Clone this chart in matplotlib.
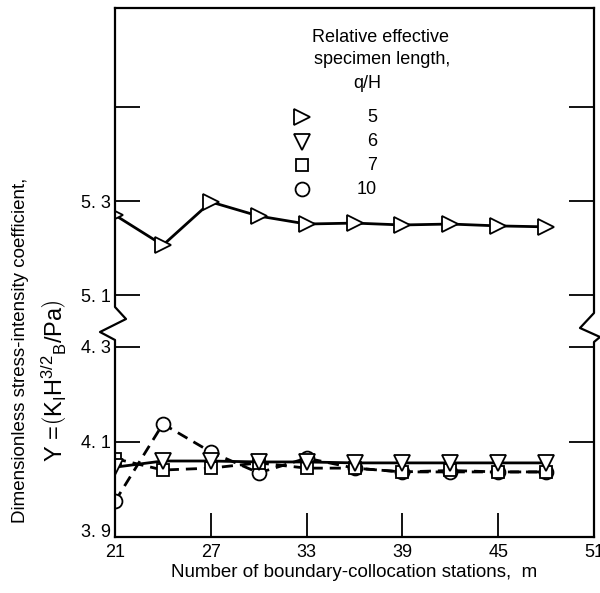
import matplotlib
matplotlib.use("Agg")
import matplotlib.pyplot as plt
from matplotlib.lines import Line2D

plt.rcParams["font.family"] = ["Liberation Sans", "DejaVu Sans"]
plt.rcParams["mathtext.fontset"] = "custom"
plt.rcParams["mathtext.rm"] = "Liberation Sans"
plt.rcParams["mathtext.it"] = "Liberation Sans"

# boundary-collocation stations, m
stations = [21, 24, 27, 30, 33, 36, 39, 42, 45, 48]
# Y for each relative effective specimen length q/H
y_q5 = [5.270, 5.206, 5.298, 5.268, 5.251, 5.253, 5.249, 5.251, 5.247, 5.245]
y_q6 = [4.047, 4.060, 4.060, 4.058, 4.058, 4.056, 4.056, 4.056, 4.056, 4.056]
y_q7 = [4.065, 4.041, 4.045, 4.056, 4.045, 4.045, 4.037, 4.040, 4.037, 4.037]
y_q10 = [3.975, 4.138, 4.079, 4.035, 4.066, 4.045, 4.037, 4.037, 4.037, 4.037]

legend_labels = ["5", "6", "7", "10"]
x_ticks = [21, 27, 33, 39, 45, 51]
low_ticks = [3.9, 4.1, 4.3]
low_tick_labels = ["3. 9", "4. 1", "4. 3"]
up_ticks = [5.1, 5.3, 5.5]
up_tick_labels = ["5. 1", "5. 3", ""]

W, H = 600, 593
fig = plt.figure(figsize=(W / 100, H / 100), dpi=100)


def px(x, y):
    return x / W, 1 - y / H


L, R, T, B, BRK = 115, 594, 8, 537, 320
ax_lo = fig.add_axes([L / W, 1 - B / H, (R - L) / W, (B - BRK) / H])
ax_up = fig.add_axes([L / W, 1 - BRK / H, (R - L) / W, (BRK - T) / H])

for ax in (ax_lo, ax_up):
    ax.set_xlim(21, 51)
    ax.spines["left"].set_visible(False)
    ax.spines["right"].set_visible(False)
    for s in ax.spines.values():
        s.set_linewidth(1.6)
    ax.patch.set_alpha(0)
    ax.tick_params(axis="y", direction="in", length=18, width=1.3,
                   left=True, right=True, labelsize=13, pad=3)

ax_lo.set_ylim(3.9, 3.9 + (B - BRK) / 475)
ax_up.set_ylim(5.1 - (BRK - 295) / 470, 5.1 - (BRK - 295) / 470 + (BRK - T) / 470)
ax_lo.spines["top"].set_visible(False)
ax_up.spines["bottom"].set_visible(False)

ax_lo.set_yticks(low_ticks)
ax_lo.set_yticklabels(low_tick_labels)
ax_lo.get_yticklabels()[0].set_va("baseline")
ax_up.set_yticks(up_ticks)
ax_up.set_yticklabels(up_tick_labels)

ax_lo.set_xticks(x_ticks)
ax_lo.tick_params(axis="x", direction="in", length=17, width=1.3,
                  labelsize=13, pad=5)
ax_up.set_xticks([])

mk = dict(markerfacecolor="white", markeredgecolor="black",
          markeredgewidth=1.3, color="black")
ax_up.plot(stations, y_q5, "-", marker=">", markersize=11, lw=2, **mk)
ax_lo.plot(stations, y_q10, linestyle=(0, (4, 2.5)), marker="o",
           markersize=10, lw=2, **mk)
ax_lo.plot(stations, y_q7, linestyle=(0, (4, 2.5)), marker="s",
           markersize=9, lw=2, **mk)
ax_lo.plot(stations, y_q6, "-", marker="v", markersize=11, lw=2, **mk)

ax_lo.set_xlabel("Number of boundary-collocation stations,  m",
                 fontsize=13.5, labelpad=2)

# left and right spines with break marks
left = [(L, T), (L, 307), (126, 319), (100, 332), (L, 340), (L, B)]
right = [(R, T), (R, 313), (580, 328), (600, 337), (R, 342), (R, B)]
for pts in (left, right):
    xs, ys = zip(*[px(*p) for p in pts])
    fig.add_artist(Line2D(xs, ys, color="black", lw=1.6,
                          transform=fig.transFigure))

# y label
fig.text(*px(21, 350), "Dimensionless stress-intensity coefficient,",
         rotation=90, ha="center", va="center", fontsize=13.5)
fig.text(*px(54, 381),
         r"Y =$\left(\mathrm{K_I H^{3/2}{}_B/Pa}\right)$",
         rotation=90, ha="center", va="center", fontsize=17)

# legend
fig.text(*px(381, 37), "Relative effective", ha="center", va="center", fontsize=13)
fig.text(*px(382, 60), "specimen length,", ha="center", va="center", fontsize=13)
fig.text(*px(367, 83), "q/H", ha="center", va="center", fontsize=13)
leg_markers = [(">", 11), ("v", 11), ("s", 9), ("o", 10)]
rows = [117, 142, 165, 189]
for (m, ms), lab, yy in zip(leg_markers, legend_labels, rows):
    x0, y0 = px(302, yy)
    fig.add_artist(Line2D([x0], [y0], marker=m, markersize=ms, linestyle="none",
                          transform=fig.transFigure, **mk))
    fig.text(*px(377, yy), lab, ha="right", va="center", fontsize=13)

fig.savefig("out.png", dpi=100)
